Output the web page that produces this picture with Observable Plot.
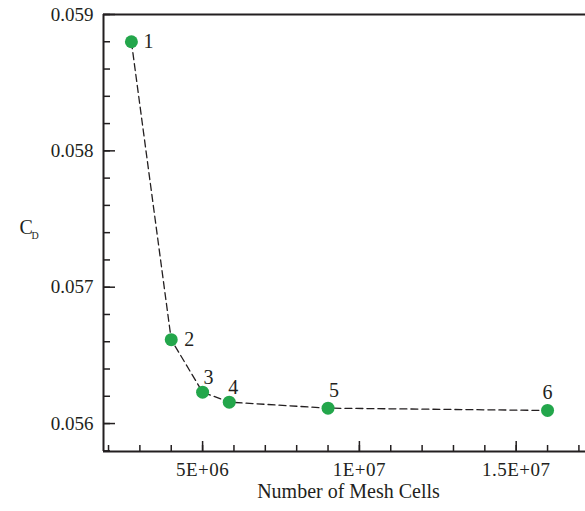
<!DOCTYPE html>
<html>
<head>
<meta charset="utf-8">
<script src="https://cdn.jsdelivr.net/npm/d3@7"></script>
<script src="https://cdn.jsdelivr.net/npm/@observablehq/plot@0.6"></script>
<style>
  html, body { margin: 0; padding: 0; background: #fff; }
  #chart svg { display: block; }
  #chart svg, #chart svg text { font-family: "Liberation Serif", "Times New Roman", serif !important; }
  #chart [aria-label="x-title"], #chart [aria-label="x-title"] text { letter-spacing: 0.55px; }
  #chart [aria-label="x-axis tick label"] text { letter-spacing: 0.5px; }
</style>
</head>
<body>
<div id="chart"></div>
<script>
// Data
const meshCells = [2.73e6, 4.0e6, 5.0e6, 5.85e6, 9.0e6, 1.6e7];
const cdValues = [0.05880, 0.056615, 0.056230, 0.056157, 0.056113, 0.056096];
const pointLabels = ["1", "2", "3", "4", "5", "6"];
const labelDx = [12, 13, 6, 4, 6, 0];
const labelDy = [0, 0, -15, -15, -18, -18];

const xTicks = [5e6, 1e7, 1.5e7];
const xTickLabels = ["5E+06", "1E+07", "1.5E+07"];
const xMinorTicks = d3.range(2e6, 1.75e7, 1e6);
const yTicks = [0.056, 0.057, 0.058, 0.059];
const yTickLabels = ["0.056", "0.057", "0.058", "0.059"];
const yMinorTicks = d3.range(0.0558, 0.05901, 0.0002);

const xDomain = [1.84e6, 1.721e7];
const yDomain = [0.055795, 0.059];

const data = meshCells.map((x, i) => ({x, y: cdValues[i], label: pointLabels[i], dx: labelDx[i], dy: labelDy[i]}));

const ink = "#231f20";
const font = "Liberation Serif";

const chart = Plot.plot({
  width: 585,
  height: 511,
  marginLeft: 103,
  marginRight: 0,
  marginTop: 14,
  marginBottom: 60,
  style: {fontFamily: font, fontSize: "19px", color: ink, background: "#fff"},
  x: {domain: xDomain},
  y: {domain: yDomain},
  marks: [
    // frame lines
    Plot.ruleY([yDomain[1]], {stroke: ink, strokeWidth: 2}),
    Plot.ruleY([yDomain[0]], {stroke: ink, strokeWidth: 2}),
    Plot.ruleX([xDomain[0]], {stroke: ink, strokeWidth: 2}),
    // minor / major ticks (inward)
    Plot.axisX(xMinorTicks, {anchor: "bottom", tickSize: -6, fill: "none", label: null, stroke: ink, strokeWidth: 1.5}),
    Plot.axisX(xTicks, {anchor: "bottom", tickSize: -10, fill: "none", label: null, stroke: ink, strokeWidth: 1.5}),
    Plot.axisX(xTicks, {anchor: "bottom", tickSize: 0, tickPadding: 11, label: null, fill: ink, fontSize: 19,
      tickFormat: d => xTickLabels[xTicks.indexOf(d)]}),
    Plot.axisY(yMinorTicks, {anchor: "left", tickSize: -7, fill: "none", label: null, stroke: ink, strokeWidth: 1.5}),
    Plot.axisY(yTicks, {anchor: "left", tickSize: -12, fill: "none", label: null, stroke: ink, strokeWidth: 1.5}),
    Plot.axisY(yTicks, {anchor: "left", tickSize: 0, tickPadding: 10, label: null, fill: ink, fontSize: 19,
      tickFormat: d => yTickLabels[yTicks.indexOf(d)]}),
    // dashed line
    Plot.line(data, {x: "x", y: "y", stroke: ink, strokeWidth: 1.3, strokeDasharray: "7,4"}),
    // points
    Plot.dot(data, {x: "x", y: "y", r: 6.5, fill: "#23a64b", stroke: "none"}),
    // point labels
    ...data.map(d => Plot.text([d], {x: "x", y: "y", text: "label", dx: d.dx, dy: d.dy,
      textAnchor: d.dx > 8 ? "start" : "middle", fill: ink, fontSize: 20, fontFamily: font})),
    // axis titles
    Plot.text(["Number of Mesh Cells"], {frameAnchor: "bottom", dy: 46, dx: 4, fill: ink, fontSize: 20,
      fontFamily: font, ariaLabel: "x-title"}),
    Plot.text(["C"], {frameAnchor: "left", dx: -84, dy: -5, fill: ink, fontSize: 20, fontFamily: font}),
    Plot.text(["D"], {frameAnchor: "left", dx: -72, dy: 3, fill: ink, fontSize: 10, fontFamily: font})
  ]
});
document.getElementById("chart").appendChild(chart);
</script>
</body>
</html>
